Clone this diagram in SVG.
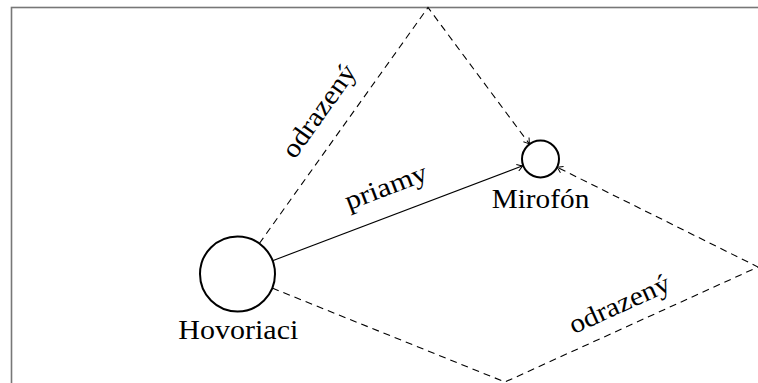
<svg xmlns="http://www.w3.org/2000/svg" width="758" height="383" viewBox="0 0 758 383">
<defs>
<style>
.lbl{font-family:'Liberation Serif','Times New Roman',Times,serif;font-size:27px;fill:#000}
.node{fill:none;stroke:#000;stroke-width:2}
.ray{fill:none;stroke:#000;stroke-width:1.1}
.dash{stroke-dasharray:7 5}
.wall{fill:none;stroke:#777;stroke-width:1.6}
</style>
<marker id="arr" viewBox="-6 -4 7 8" refX="0" refY="0" markerWidth="7" markerHeight="8" markerUnits="userSpaceOnUse" orient="auto">
<path d="M -5.5 -3.5 Q -1.5 -0.8 0 0 Q -1.5 0.8 -5.5 3.5" fill="none" stroke="#000" stroke-width="1"/>
</marker>
</defs>
<rect class="wall" x="11.5" y="7.5" width="800" height="420"/>
<g id="connectors">
<line class="ray" x1="272.6" y1="260.7" x2="522.7" y2="165.8" marker-end="url(#arr)"/>
<polyline class="ray dash" points="259.3,243.5 428,7.5 529.5,144.1" marker-end="url(#arr)"/>
<polyline class="ray dash" points="272.2,288.1 505,382 758,267 557.1,167.2" marker-end="url(#arr)"/>
<text class="lbl" transform="translate(389,195) rotate(-20.8)" text-anchor="middle" textLength="86" lengthAdjust="spacingAndGlyphs">priamy</text>
<text class="lbl" transform="translate(326,116) rotate(-54.5)" text-anchor="middle" textLength="108" lengthAdjust="spacingAndGlyphs">odrazený</text>
<text class="lbl" transform="translate(623,312) rotate(-24.3)" text-anchor="middle" textLength="108" lengthAdjust="spacingAndGlyphs">odrazený</text>
</g>
<g id="speaker">
<circle class="node" cx="237.5" cy="274" r="37.5"/>
<text class="lbl" x="238.3" y="339.3" text-anchor="middle" textLength="120" lengthAdjust="spacingAndGlyphs">Hovoriaci</text>
</g>
<g id="microphone">
<circle class="node" cx="540.5" cy="159" r="18.5"/>
<text class="lbl" x="540.5" y="208.3" text-anchor="middle" textLength="97.6" lengthAdjust="spacingAndGlyphs">Mirofón</text>
</g>
</svg>
